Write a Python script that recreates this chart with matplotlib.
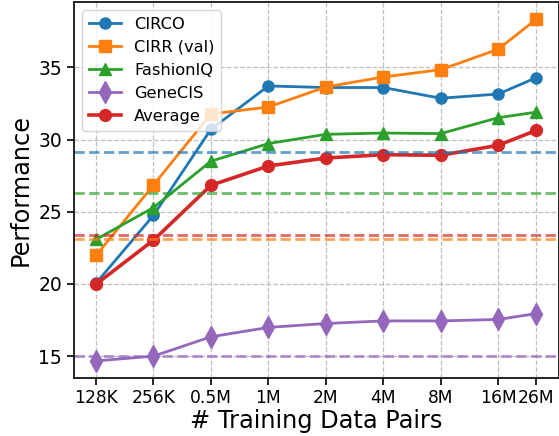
import matplotlib
matplotlib.use("Agg")
import matplotlib.pyplot as plt

pairs_k = [128, 256, 512, 1024, 2048, 4096, 8192, 16384, 26000]
tick_labels = ["128K", "256K", "0.5M", "1M", "2M", "4M", "8M", "16M", "26M"]

circo = [20.05, 24.75, 30.71, 33.71, 33.6, 33.6, 32.86, 33.15, 34.29]
cirr = [21.97, 26.85, 31.77, 32.25, 33.64, 34.33, 34.84, 36.25, 38.34]
fashioniq = [23.08, 25.29, 28.5, 29.72, 30.36, 30.45, 30.41, 31.51, 31.9]
genecis = [14.67, 15.0, 16.34, 16.99, 17.26, 17.44, 17.44, 17.54, 17.95]
average = [19.98, 23.03, 26.83, 28.17, 28.72, 28.95, 28.91, 29.6, 30.64]

baseline_circo = 29.12
baseline_cirr = 23.14
baseline_fashioniq = 26.3
baseline_genecis = 15.0
baseline_average = 23.37

colors = {"CIRCO": "#1f77b4", "CIRR (val)": "#ff7f0e", "FashionIQ": "#2ca02c",
          "GeneCIS": "#9467bd", "Average": "#d62728"}

fig = plt.figure(figsize=(5.59, 4.36), dpi=100)
ax = fig.add_axes([74/559, 58/436, (558.5-74)/559, (434-58)/436])

ax.plot(pairs_k, circo, marker="o", color=colors["CIRCO"], lw=2, ms=8, label="CIRCO")
ax.plot(pairs_k, cirr, marker="s", color=colors["CIRR (val)"], lw=2, ms=8, label="CIRR (val)")
ax.plot(pairs_k, fashioniq, marker="^", color=colors["FashionIQ"], lw=2, ms=8, label="FashionIQ")
ax.plot(pairs_k, genecis, marker="d", color=colors["GeneCIS"], lw=2, ms=11, label="GeneCIS")
ax.plot(pairs_k, average, marker="o", color=colors["Average"], lw=2.6, ms=8.5, label="Average")

for name, val in [("CIRCO", baseline_circo), ("CIRR (val)", baseline_cirr),
                  ("FashionIQ", baseline_fashioniq), ("GeneCIS", baseline_genecis),
                  ("Average", baseline_average)]:
    ax.axhline(val, color=colors[name], ls="--", lw=2, alpha=0.7)

ax.set_xscale("log", base=2)
ax.set_xticks(pairs_k)
ax.set_xticklabels(tick_labels)
ax.minorticks_off()
ax.set_yticks([15, 20, 25, 30, 35])
ax.tick_params(axis="x", labelsize=12.3, length=5, width=1.2, pad=3)
ax.tick_params(axis="y", labelsize=13.5, length=5, width=1.2)
ax.grid(True, ls="--", color="#b0b0b0", alpha=0.8, lw=0.9)
ax.set_xlabel("# Training Data Pairs", fontsize=17.3, labelpad=1.5)
ax.set_ylabel("Performance", fontsize=17.3)
for s in ax.spines.values():
    s.set_linewidth(1.2)
ax.legend(loc="upper left", fontsize=11.7, framealpha=0.8)

fig.savefig("out.png", dpi=100)
